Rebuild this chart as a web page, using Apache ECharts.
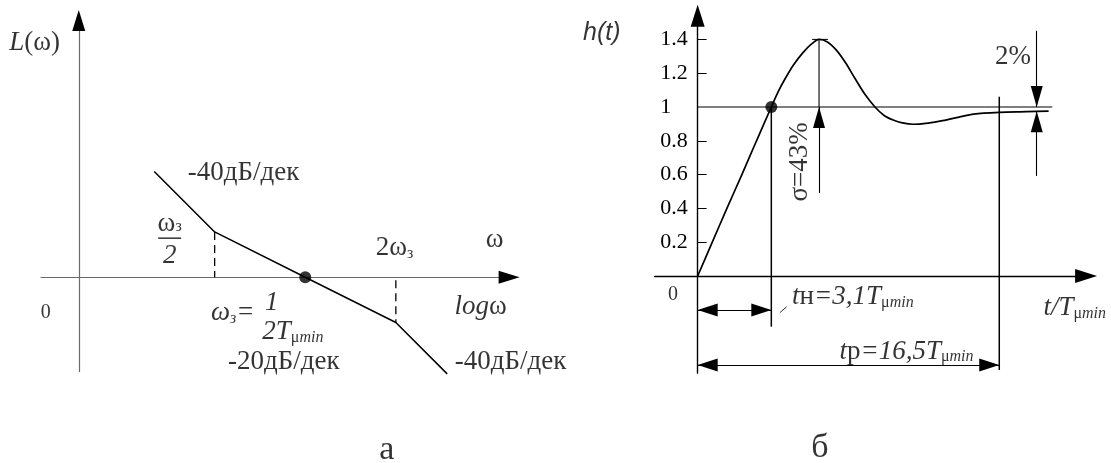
<!DOCTYPE html>
<html><head><meta charset="utf-8">
<script src="https://cdn.jsdelivr.net/npm/echarts@6/dist/echarts.min.js"></script>
<style>html,body{margin:0;padding:0;background:#fff}#c{width:1111px;height:463px}</style>
</head><body><div id="c"></div>
<script>
// ---------- Panel а : asymptotic LAFC (x = lg ω, decades; y = L, dB) ----------
const lafX = [0.25, 0.45, 0.75, 1.05, 1.22];
const lafY = [14, 6, 0, -6, -12.8];
const wCut = 0.75;   // ωз
const wLow = 0.45;   // ωз/2
const wHigh = 1.05;  // 2ωз

// ---------- Panel б : step response h(t) (x = t/Tμmin) ----------
const hT = [0, 0.8, 1.6, 2.42, 3.22, 4.03, 4.4, 4.8, 5.25, 5.75, 6.2, 6.64, 7.1, 7.6, 8.1, 8.6, 9.15, 9.7, 10.2, 10.7, 11.2, 11.8, 12.6, 13.4, 14.3, 15.1, 16.5, 18.0, 19.2];
const hV = [0, 0.2, 0.4, 0.6, 0.8, 1.0, 1.09, 1.17, 1.25, 1.32, 1.37, 1.40, 1.385, 1.335, 1.26, 1.17, 1.075, 1.0, 0.95, 0.923, 0.906, 0.898, 0.905, 0.919, 0.94, 0.958, 0.968, 0.972, 0.976];
const yTicks = [0.2, 0.4, 0.6, 0.8, 1, 1.2, 1.4];
const yTickLabels = ['0.2', '0.4', '0.6', '0.8', '1', '1.2', '1.4'];
const tRise = 4.03;     // tн
const tSettle = 16.5;   // tр
const tPeak = 6.64;
const hPeak = 1.40;
const hSteady = 1.0;
const bandLow = 0.975;  // 2% band
const t2pc = 18.55;

const SERIF = '"Liberation Serif","Times New Roman",serif';
const SANS = '"Liberation Sans",Arial,sans-serif';
const RICH = {
  r: {fontFamily: SERIF, fontSize: 27, color: '#000'},
  i: {fontFamily: SERIF, fontSize: 27, fontStyle: 'italic', color: '#000'},
  fr: {fontFamily: SERIF, fontSize: 27, lineHeight: 22, color: '#000'},
  fri: {fontFamily: SERIF, fontSize: 27, lineHeight: 30, fontStyle: 'italic', color: '#000'},
  sub: {fontFamily: SERIF, fontSize: 16, lineHeight: 14, verticalAlign: 'bottom', color: '#000'},
  mu: {fontFamily: SERIF, fontSize: 16, lineHeight: 14, verticalAlign: 'bottom', color: '#000'},
  subi: {fontFamily: SERIF, fontSize: 16, lineHeight: 14, fontStyle: 'italic', verticalAlign: 'bottom', color: '#000'},
  bar: {width: 23, height: 1.5, lineHeight: 6, backgroundColor: '#000'},
  n: {fontFamily: SERIF, fontSize: 20, color: '#000'},
  ax: {fontFamily: SANS, fontSize: 25, fontStyle: 'italic', color: '#000'},
  big: {fontFamily: SERIF, fontSize: 34, color: '#000'}
};

function arrowPath(w, len) {
  // triangle whose tip sits at the symbol centre
  return 'path://M' + (w / 2) + ',0 M' + (w / 2) + ',' + len + ' L' + w + ',' + (2 * len) + ' L0,' + (2 * len) + ' Z';
}

function labels(g, items) {
  return {
    type: 'scatter', xAxisIndex: g, yAxisIndex: g, symbolSize: 1, silent: true, clip: false, z: 5,
    itemStyle: {color: 'rgba(0,0,0,0)'},
    data: items.map(function (it) {
      return {
        value: [it[0], it[1]],
        label: {show: true, position: it[3] || 'inside', distance: 0, rotate: it[4] || 0,
          formatter: it[2], rich: RICH, color: '#000'}
      };
    })
  };
}

function seg(g, pts, style) {
  return {type: 'line', xAxisIndex: g, yAxisIndex: g, data: pts, symbol: 'none', silent: true, clip: false,
    lineStyle: Object.assign({color: '#000', width: 1.3}, style || {})};
}

const axBase = {
  type: 'value', axisTick: {show: false}, axisLabel: {show: false}, splitLine: {show: false}
};
const grayAxis = {show: true, onZero: true, lineStyle: {color: '#6a6a6a', width: 1.2},
  symbol: ['none', 'none']};
const headAxis = {show: true, onZero: true, lineStyle: {color: '#000', width: 0},
  symbol: ['none', 'triangle'], symbolSize: [13, 21]};
const blackAxis = {show: true, onZero: true, lineStyle: {color: '#000', width: 1.4},
  symbol: ['none', 'triangle'], symbolSize: [14, 22]};

const A1 = arrowPath(13, 20);
const A2 = arrowPath(12, 21);

const option = {
  animation: false,
  backgroundColor: '#fff',
  grid: [
    {left: 41, top: 20.5, width: 468.1, height: 351.1},
    {left: 654.7, top: 15.74, width: 431.4, height: 357.4}
  ],
  xAxis: [
    Object.assign({}, axBase, {gridIndex: 0, min: -0.125, max: 1.425, axisLine: grayAxis}),
    Object.assign({}, axBase, {gridIndex: 1, min: -2.35, max: 21.25, axisLine: blackAxis}),
    Object.assign({}, axBase, {gridIndex: 0, position: 'bottom', min: -0.125, max: 1.425, axisLine: headAxis})
  ],
  yAxis: [
    Object.assign({}, axBase, {gridIndex: 0, min: -12.5, max: 34, axisLine: grayAxis}),
    Object.assign({}, axBase, {gridIndex: 1, min: -0.575, max: 1.54, axisLine: blackAxis,
      axisTick: {show: true, inside: true, length: 9, customValues: yTicks.filter(function (v) { return v !== hSteady; }),
        lineStyle: {color: '#000', width: 1}},
      axisLabel: {show: true, customValues: yTicks, margin: -5.5, align: 'left',
        fontFamily: SERIF, fontSize: 22, color: '#000',
        formatter: function (v) { const k = yTicks.indexOf(v); return k >= 0 ? yTickLabels[k] : ''; }}}),
    Object.assign({}, axBase, {gridIndex: 0, position: 'left', min: -12.5, max: 34, axisLine: headAxis})
  ],
  series: [
    // ---- panel а ----
    seg(0, lafX.map(function (x, i) { return [x, lafY[i]]; }), {width: 1.5}),
    seg(0, [[wLow, lafY[lafX.indexOf(wLow)]], [wLow, 0]], {type: [8, 5], width: 1.3}),
    seg(0, [[wHigh, -0.4], [wHigh, lafY[lafX.indexOf(wHigh)]]], {type: [8, 5], width: 1.3}),
    {type: 'scatter', xAxisIndex: 0, yAxisIndex: 0, data: [[wCut, 0]], symbolSize: 12, itemStyle: {color: '#000'}, silent: true, z: 4},
    labels(0, [
      [-0.146, 31.0, '{i|L}{r|(ω)}'],
      [0.546, 13.77, '{r|-40дБ/дек}'],
      [0.301, 4.64, '{fr|ω}{sub|з}\n{bar|}\n{fri|2}'],
      [1.046, 3.84, '{r|2ω}{sub|з}'],
      [1.377, 4.90, '{r|ω}'],
      [1.331, -3.97, '{i|log}{r|ω}'],
      [1.430, -11.26, '{r|-40дБ/дек}'],
      [-0.109, -4.77, '{n|0}'],
      [0.510, -4.77, '{i|ω}{subi|з}{i|=}'],
      [0.639, -3.44, '{i|1}'],
      [0.709, -7.28, '{i|2T}{mu|μ}{subi|min}'],
      [0.679, -11.26, '{r|-20дБ/дек}'],
      [1.020, -22.9, '{big|а}']
    ]),
    // ---- panel б ----
    {type: 'line', xAxisIndex: 1, yAxisIndex: 1, smooth: 0.3, symbol: 'none', silent: true, clip: false,
      data: hT.map(function (t, i) { return [t, hV[i]]; }), lineStyle: {color: '#000', width: 1.7}},
    Object.assign(seg(1, [[0, hSteady], [19.4, hSteady]], {width: 1.1}), {
      markLine: {
        silent: true, symbol: [A1, A1], symbolSize: [13, 40], label: {show: false},
        emphasis: {disabled: true},
        lineStyle: {color: '#000', width: 1.1, type: 'solid'},
        data: [
          [{coord: [0, -0.201]}, {coord: [tRise, -0.201]}],
          [{coord: [0, -0.527]}, {coord: [tSettle, -0.527]}],
          [{coord: [tPeak, 1.604], symbol: 'none'}, {coord: [tPeak, hPeak], symbol: A2, symbolSize: [12, 42]}],
          [{coord: [tPeak, 0.491], symbol: 'none'}, {coord: [tPeak, hSteady], symbol: A2, symbolSize: [12, 42]}],
          [{coord: [t2pc, 1.451], symbol: 'none'}, {coord: [t2pc, hSteady], symbol: A2, symbolSize: [12, 42]}],
          [{coord: [t2pc, 0.592], symbol: 'none'}, {coord: [t2pc, bandLow], symbol: A2, symbolSize: [12, 42]}]
        ]
      }
    }),
    seg(1, [[tPeak, hPeak], [tPeak, hSteady]], {width: 1.1}),
    seg(1, [[6.26, hPeak], [7.13, hPeak]], {width: 1}),
    seg(1, [[tRise, hSteady], [tRise, -0.30]], {width: 1.5}),
    seg(1, [[tSettle, 1.061], [tSettle, -0.556]], {width: 1.5}),
    seg(1, [[4.50, -0.217], [4.87, -0.182]], {width: 0.8}),
    {type: 'scatter', xAxisIndex: 1, yAxisIndex: 1, data: [[tRise, hSteady]], symbolSize: 12, itemStyle: {color: '#000'}, silent: true, z: 4},
    labels(1, [
      [-5.24, 1.438, '{ax|h(t)}'],
      [-1.35, -0.112, '{n|0}'],
      [5.60, 0.675, '{r|σ=43%}', 'inside', 90],
      [17.25, 1.296, '{r|2%}'],
      [5.14, -0.124, '{i|t}{r|н}{i|=3,1T}{mu|μ}{subi|min}', 'right'],
      [7.73, -0.448, '{i|t}{r|р}{i|=16,5T}{mu|μ}{subi|min}', 'right'],
      [18.89, -0.189, '{i|t/T}{mu|μ}{subi|min}', 'right'],
      [6.69, -1.018, '{big|б}']
    ])
  ]
};

const chart = echarts.init(document.getElementById('c'), null, {renderer: 'canvas'});
chart.setOption(option);
</script>
</body></html>
